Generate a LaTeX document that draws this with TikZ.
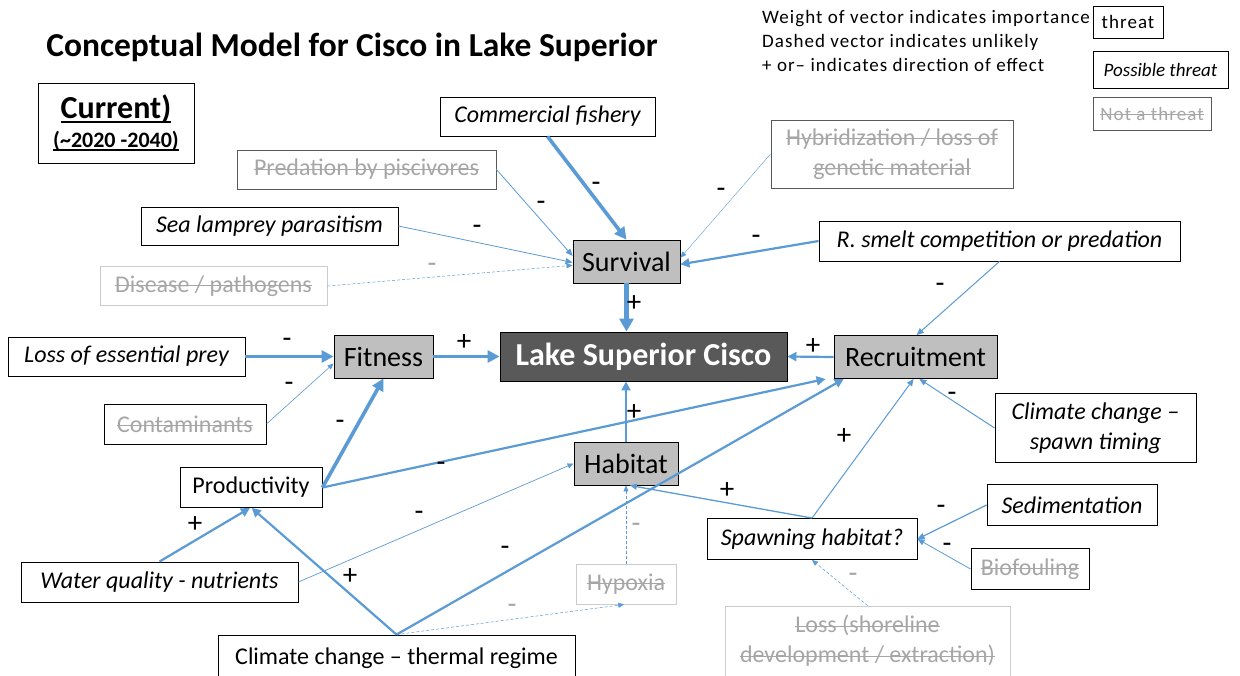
\documentclass[tikz,border=0pt]{standalone}
\usepackage{fontspec}
\setmainfont{Carlito}
\usetikzlibrary{arrows.meta,calc}
\newsavebox\stbox
\newcommand\strk[1]{\sbox\stbox{#1}\rlap{\usebox\stbox}\rule[0.25em]{\wd\stbox}{0.055em}}
\newcommand\undl[1]{\sbox\stbox{#1}\rlap{\usebox\stbox}\rule[-0.13em]{\wd\stbox}{0.06em}}
\definecolor{ln}{HTML}{5B9BD5}
\definecolor{gtxt}{HTML}{A6A6A6}
\definecolor{gfill}{HTML}{BFBFBF}
\definecolor{dfill}{HTML}{595959}
\definecolor{lbord}{HTML}{CCCCCC}
\tikzset{
  box/.style={draw=black, line width=0.9pt, fill=white, inner sep=0pt, align=center, font=\fontsize{24}{30}\selectfont},
  ibox/.style={box, font=\fontsize{24}{30}\selectfont\itshape},
  nbox/.style={box, text=gtxt},
  lbox/.style={nbox, draw=lbord},
  core/.style={box, fill=gfill, font=\fontsize{28}{32}\selectfont},
  cisco/.style={box, fill=dfill, text=white, font=\fontsize{32}{36}\selectfont\bfseries},
  lbl/.style={font=\fontsize{29}{29}\selectfont, inner sep=0pt},
  glbl/.style={lbl, text=gtxt},
  legt/.style={anchor=west, inner sep=0pt, font=\fontsize{19}{22}\selectfont\addfontfeatures{LetterSpace=5.5}},
  lgbox/.style={box, line width=0.8pt, font=\fontsize{19}{22}\selectfont},
  ar/.style={draw=ln, line join=round},
  a1/.style={ar, line width=0.5pt, -{Triangle[length=6pt,width=5pt]}},
  a2/.style={ar, line width=1pt, -{Triangle[length=7pt,width=6pt]}},
  a3/.style={ar, line width=2.2pt, -{Triangle[length=9pt,width=9pt]}},
  a4/.style={ar, line width=3.6pt, -{Triangle[length=12pt,width=12pt]}},
  a5/.style={ar, line width=5pt, -{Triangle[length=13pt,width=14pt]}},
  dsh/.style={dash pattern=on 3pt off 2pt},
}
\begin{document}
\begin{tikzpicture}[x=1pt,y=-1pt]
\useasboundingbox[fill=white] (0,0) rectangle (1240,675);

% title and period
\node[inner sep=0pt, font=\fontsize{33.5}{38}\selectfont\bfseries] (title) at (352,47) {Conceptual Model for Cisco in Lake Superior};
\node[box, minimum width=156pt, minimum height=80pt, font=\bfseries] (cur) at (116,123)
  {\fontsize{32}{34}\selectfont\undl{Current)}\\[7pt]\fontsize{22}{24}\selectfont\undl{(\textasciitilde 2020 -2040)}};

% legend
\node[legt] (lg1) at (762,19) {Weight of vector indicates importance};
\node[legt] (lg2) at (762,42) {Dashed vector indicates unlikely};
\node[legt] (lg3) at (762,65) {+ or– indicates direction of effect};
\node[lgbox, minimum width=70pt, minimum height=32pt, font=\fontsize{19}{22}\selectfont\addfontfeatures{LetterSpace=5.5}] (lthr) at (1128,22) {threat};
\node[lgbox, minimum width=135pt, minimum height=37pt, font=\fontsize{19}{22}\selectfont\itshape] (lpos) at (1160.5,69.5) {Possible threat};
\node[lgbox, draw=dfill, text=gtxt, minimum width=118pt, minimum height=33pt, font=\fontsize{19}{22}\selectfont\addfontfeatures{LetterSpace=5.5}] (lnot) at (1152,113.5) {\strk{Not a threat}};

% nodes
\node[ibox, minimum width=215pt, minimum height=39pt] (comm) at (547.5,116.5) {Commercial fishery};
\node[nbox, draw=dfill, minimum width=259pt, minimum height=39pt] (pred) at (366.5,169.5) {\strk{Predation by piscivores}};
\node[nbox, draw=dfill, minimum width=242pt, minimum height=68pt] (hyb) at (892,154) {\strk{Hybridization / loss of}\\\strk{genetic material}};
\node[ibox, minimum width=257pt, minimum height=38pt] (sea) at (269.5,226) {Sea lamprey parasitism};
\node[core, minimum width=107pt, minimum height=43pt] (surv) at (626.5,261.5) {Survival};
\node[ibox, minimum width=361pt, minimum height=40pt] (smelt) at (999.5,241) {R. smelt competition or predation};
\node[lbox, minimum width=227pt, minimum height=39pt] (dis) at (213.5,286) {\strk{Disease / pathogens}};
\node[ibox, minimum width=237pt, minimum height=39pt] (prey) at (126.5,356.5) {Loss of essential prey};
\node[core, minimum width=99pt, minimum height=43pt] (fit) at (383.5,356.5) {Fitness};
\node[cisco, minimum width=287pt, minimum height=49pt] (cisco) at (643.5,356.5) {Lake Superior Cisco};
\node[core, minimum width=163pt, minimum height=43pt] (rec) at (915.5,357) {Recruitment};
\node[nbox, minimum width=162pt, minimum height=40pt] (cont) at (185,424) {\strk{Contaminants}};
\node[ibox, minimum width=201pt, minimum height=69pt] (cst) at (1095.5,428) {Climate change –\\spawn timing};
\node[core, minimum width=104pt, minimum height=43pt] (hab) at (626,463.5) {Habitat};
\node[box, minimum width=142pt, minimum height=40pt] (prod) at (251,487.5) {Productivity};
\node[ibox, minimum width=170pt, minimum height=41pt] (sed) at (1072,505) {Sedimentation};
\node[ibox, minimum width=210pt, minimum height=41pt] (spawn) at (812,539) {Spawning habitat?};
\node[ibox, minimum width=277pt, minimum height=40pt] (water) at (159.5,582) {Water quality - nutrients};
\node[nbox, minimum width=118pt, minimum height=41pt] (bio) at (1030,569) {\strk{Biofouling}};
\node[lbox, minimum width=100pt, minimum height=40pt] (hyp) at (626,584) {\strk{Hypoxia}};
\node[lbox, minimum width=285pt, minimum height=70pt] (loss) at (867.5,641) {\strk{Loss (shoreline}\\\strk{development / extraction)}};
\node[box, minimum width=357pt, minimum height=46pt] (ctr) at (396.5,658) {Climate change – thermal regime};

% connectors
\draw[a4] (comm.south) -- (surv.north);
\draw[a2, line width=0.8pt] (pred.east) -- (surv.174);
\draw[a2, line width=0.8pt] (sea.east) -- (surv.181);
\draw[a1, dsh] (dis.east) -- (surv.184);
\draw[a1, line width=0.4pt] (hyb.west) -- (surv.4);
\draw[a3] (smelt.west) -- (surv.357);
\draw[a5] (surv.south) -- (surv.south |- cisco.north);
\draw[a4] (prey.east) -- (fit.west);
\draw[a1, line width=0.6pt] (cont.east) -- (fit.188);
\draw[a4] (fit.east) -- (cisco.west);
\draw[a3] (rec.west) -- (cisco.east);
\draw[a2] (smelt.south) -- (rec.87);
\draw[a2] (cst.west) -- (rec.-80);
\draw[a3] (hab.north) -- (hab.north |- cisco.south);
\draw[a4] (prod.east) -- (fit.south);
\draw[a3] (prod.east) -- ($(rec.south west)+(-8,0)$);
\draw[a3] (ctr.north) -- (rec.197);
\draw[a3] (ctr.north) -- (prod.-88);
\draw[a3] (water.north) -- (prod.-93);
\draw[a1, line width=0.7pt] (water.east) -- (hab.west);
\draw[a1, dsh] (ctr.north) -- (hyp.-95);
\draw[a1, dsh] (hyp.north) -- (hab.south);
\draw[a2, line width=1.3pt] (spawn.north) -- (hab.-80);
\draw[a2] (spawn.north) -- (rec.-95);
\draw[a2, line width=1.2pt] (sed.west) -- (spawn.east);
\draw[a2, line width=0.8pt] (bio.west) -- (spawn.east);
\draw[a1, dsh] (loss.north) -- (spawn.south);

% labels
\node[lbl] (l1) at (596,187) {-};
\node[lbl] (l2) at (541,206) {-};
\node[lbl] (l3) at (477,230) {-};
\node[glbl] (l4) at (432,268) {-};
\node[lbl] (l5) at (721,193) {-};
\node[lbl] (l6) at (756,240) {-};
\node[lbl] (l7) at (634,304) {+};
\node[lbl] (l8) at (287,343) {-};
\node[lbl] (l9) at (289,387) {-};
\node[lbl] (l10) at (464,343) {+};
\node[lbl] (l11) at (813,347) {+};
\node[lbl] (l12) at (940,288) {-};
\node[lbl] (l13) at (952,397) {-};
\node[lbl] (l14) at (634,413) {+};
\node[lbl] (l15) at (340,425) {-};
\node[lbl] (l16) at (441,467) {-};
\node[lbl] (l17) at (505,551) {-};
\node[lbl] (l18) at (350,577) {+};
\node[lbl] (l19) at (195,525) {+};
\node[lbl] (l20) at (419,516) {-};
\node[glbl] (l21) at (512,609) {-};
\node[glbl] (l22) at (636,528) {-};
\node[lbl] (l23) at (727,491) {+};
\node[lbl] (l24) at (844,437) {+};
\node[lbl] (l25) at (941,510) {-};
\node[lbl] (l26) at (947,548) {-};
\node[glbl] (l27) at (853,578) {-};
\end{tikzpicture}
\end{document}
